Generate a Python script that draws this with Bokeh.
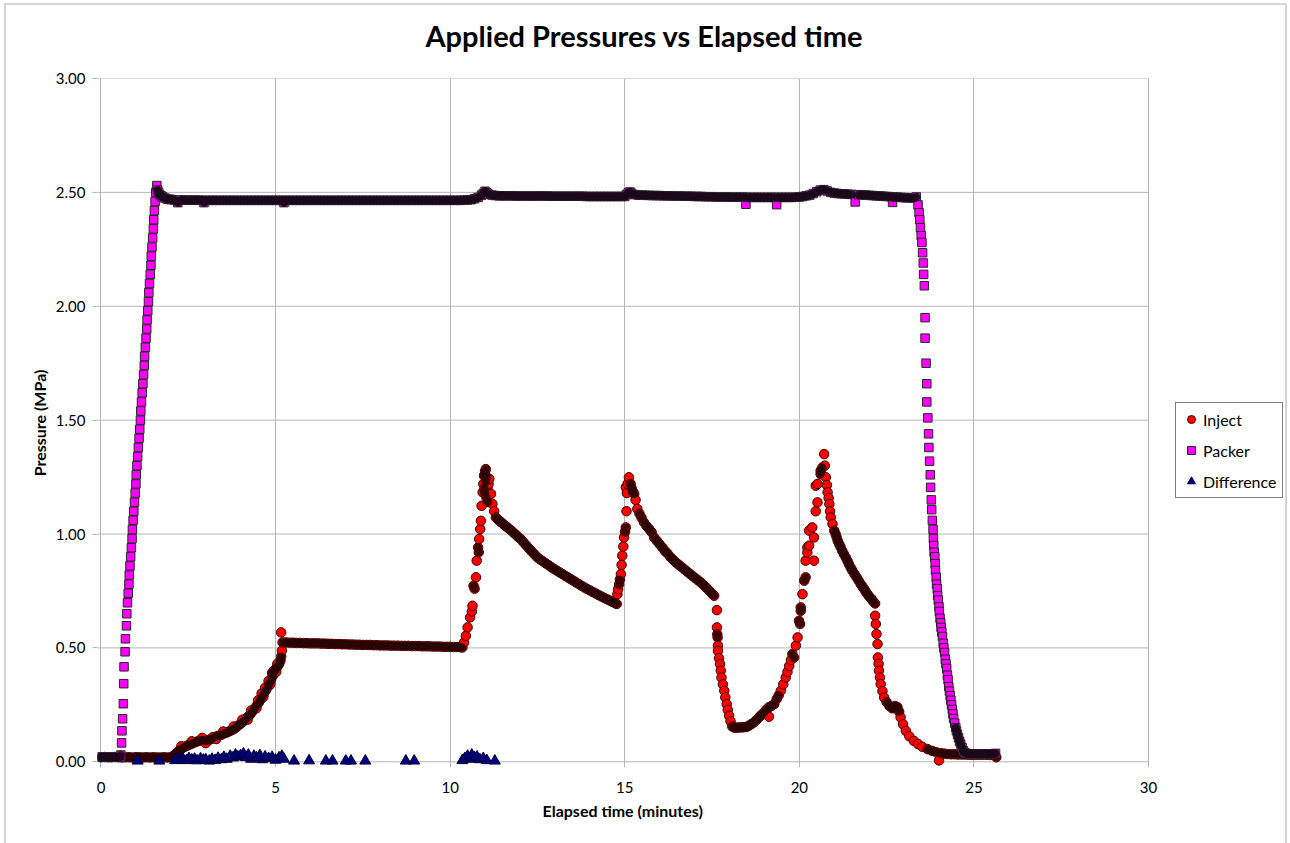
from bokeh.plotting import figure
from bokeh.models import Range1d, FixedTicker, Legend, LegendItem, PrintfTickFormatter, Title
from bokeh.embed import file_html
from bokeh.resources import INLINE

# ---------------- data ----------------
x_ticks = [0, 5, 10, 15, 20, 25, 30]
y_ticks = [0.0, 0.5, 1.0, 1.5, 2.0, 2.5, 3.0]

inject_t = [
    0.0, 0.1, 0.2, 0.3, 0.4, 0.5, 0.6, 0.7, 0.8, 0.9, 1.0, 1.1, 1.2, 1.3, 1.4, 1.5, 1.6, 1.7, 1.8, 1.9,
    2.00, 2.07, 2.13, 2.20, 2.26, 2.33, 2.40, 2.47, 2.54, 2.61, 2.68, 2.75, 2.82, 2.89, 2.96, 3.03, 3.10,
    3.17, 3.24, 3.31, 3.38, 3.45, 3.52, 3.59, 3.66, 3.73, 3.80, 3.86, 3.92, 3.98, 4.04, 4.10, 4.16, 4.22,
    4.28, 4.34, 4.40, 4.46, 4.52, 4.57, 4.62, 4.67, 4.72, 4.77, 4.82, 4.87, 4.92, 4.96, 5.00, 5.04, 5.08,
    5.11, 5.14, 5.16, 5.18, 5.16,
    2.30, 2.60, 2.90, 3.20, 3.50, 3.80, 4.05, 4.30, 4.50, 4.60, 4.70, 4.80, 4.90, 4.95, 5.05,
    3.00, 3.30, 4.20, 4.45, 4.65, 4.85, 5.02,
    5.2, 5.3, 5.4, 5.5, 5.6, 5.7, 5.8, 5.9, 6.0, 6.1, 6.2, 6.3, 6.4, 6.5, 6.6, 6.7, 6.8, 6.9, 7.0, 7.1,
    7.2, 7.3, 7.4, 7.5, 7.6, 7.7, 7.8, 7.9, 8.0, 8.1, 8.2, 8.3, 8.4, 8.5, 8.6, 8.7, 8.8, 8.9, 9.0, 9.1,
    9.2, 9.3, 9.4, 9.5, 9.6, 9.7, 9.8, 9.9, 10.0, 10.1, 10.2, 10.3,
    10.35, 10.40, 10.45, 10.50, 10.57, 10.62, 10.64, 10.67, 10.70, 10.74, 10.76, 10.80, 10.82, 10.83,
    10.86, 10.88, 10.90, 10.93, 10.95, 10.97, 11.00, 11.02,
    10.98, 11.00, 11.03, 11.05, 11.07, 11.04, 11.08, 11.10,
    11.12, 11.17, 11.21, 11.26, 11.31, 11.38, 11.45, 11.52, 11.58, 11.64, 11.72, 11.80, 11.88, 11.95,
    12.02, 12.10, 12.18, 12.26, 12.34, 12.42, 12.50, 12.58, 12.66, 12.74, 12.82, 12.90, 12.98, 13.06,
    13.14, 13.22, 13.30, 13.38, 13.45, 13.53, 13.61, 13.69, 13.77, 13.85, 13.93, 14.01, 14.09, 14.17,
    14.25, 14.33, 14.41, 14.49, 14.57, 14.65, 14.72, 14.77,
    14.79, 14.81, 14.84, 14.86, 14.89, 14.91, 14.93, 14.96, 14.98, 15.01, 15.03, 15.05, 15.03, 15.06,
    15.08, 15.12,
    15.17, 15.20, 15.24, 15.27, 15.31, 15.36, 15.42, 15.48, 15.55, 15.62, 15.70, 15.77, 15.84, 15.92,
    16.00, 16.08, 16.15, 16.22, 16.30, 16.38, 16.46, 16.54, 16.62, 16.70, 16.78, 16.86, 16.94, 17.02,
    17.10, 17.18, 17.26, 17.34, 17.42, 17.50, 17.56,
    17.64, 17.64, 17.65, 17.66, 17.67, 17.67, 17.70, 17.73, 17.75, 17.77, 17.81, 17.85, 17.88, 17.92,
    17.95, 17.99, 18.03, 18.08, 18.14, 18.20, 18.27, 18.34, 18.41, 18.48, 18.55, 18.62, 18.70, 18.78,
    18.86, 18.93, 18.99, 19.05, 19.13, 19.13, 19.20, 19.28, 19.35, 19.41, 19.47, 19.54, 19.61, 19.66,
    19.71, 19.76, 19.80, 19.85, 19.90, 19.95, 19.99, 20.02, 20.04, 20.04, 20.09, 20.14, 20.18, 20.18,
    20.23, 20.23, 20.28, 20.28, 20.37, 20.42, 20.42, 20.47, 20.47, 20.52, 20.52, 20.61, 20.61, 20.66,
    20.71,
    20.73, 20.76, 20.79, 20.81, 20.84, 20.86, 20.88, 20.90, 20.95, 21.00, 21.04, 21.07, 21.10, 21.14,
    21.18, 21.23, 21.28, 21.33, 21.38, 21.42, 21.47, 21.52, 21.58, 21.64, 21.70, 21.76, 21.81, 21.86,
    21.90, 21.95, 22.00, 22.06, 22.11, 22.17,
    22.17, 22.19, 22.21, 22.24, 22.25, 22.27, 22.28, 22.31, 22.33, 22.38, 22.43, 22.50, 22.58, 22.66,
    22.74, 22.81, 22.86, 22.90, 22.97, 23.05, 23.15, 23.28, 23.40, 23.52, 23.67, 23.80, 23.92, 24.00,
    24.05, 24.15, 24.24, 24.35, 24.45, 24.55, 24.65, 24.75, 24.85, 24.95, 25.05, 25.15, 25.25, 25.35,
    25.45, 25.55, 25.64,
]
inject_p = [
    0.020, 0.021, 0.020, 0.020, 0.021, 0.020, 0.019, 0.020, 0.020, 0.019, 0.020, 0.020, 0.019, 0.020,
    0.019, 0.020, 0.019, 0.019, 0.020, 0.019,
    0.020, 0.026, 0.034, 0.043, 0.052, 0.060, 0.066, 0.071, 0.076, 0.080, 0.085, 0.089, 0.093, 0.095,
    0.094, 0.093, 0.096, 0.101, 0.107, 0.111, 0.115, 0.119, 0.124, 0.128, 0.133, 0.138, 0.143, 0.150,
    0.158, 0.165, 0.172, 0.181, 0.190, 0.199, 0.209, 0.222, 0.234, 0.247, 0.260, 0.273, 0.287, 0.300,
    0.313, 0.327, 0.343, 0.360, 0.377, 0.392, 0.405, 0.415, 0.424, 0.433, 0.445, 0.462, 0.488, 0.568,
    0.068, 0.090, 0.105, 0.108, 0.133, 0.155, 0.185, 0.225, 0.270, 0.300, 0.325, 0.355, 0.390, 0.400,
    0.430,
    0.082, 0.100, 0.185, 0.235, 0.285, 0.340, 0.395,
    0.524, 0.524, 0.523, 0.523, 0.522, 0.522, 0.521, 0.521, 0.520, 0.520, 0.520, 0.519, 0.519, 0.518,
    0.518, 0.517, 0.517, 0.516, 0.516, 0.515, 0.515, 0.514, 0.514, 0.513, 0.513, 0.513, 0.512, 0.512,
    0.511, 0.511, 0.511, 0.510, 0.510, 0.510, 0.509, 0.509, 0.509, 0.508, 0.508, 0.508, 0.507, 0.507,
    0.507, 0.506, 0.506, 0.506, 0.505, 0.505, 0.505, 0.504, 0.504, 0.503,
    0.502, 0.524, 0.553, 0.590, 0.634, 0.660, 0.685, 0.773, 0.760, 0.810, 0.883, 0.941, 0.920, 0.978,
    1.022, 1.058, 1.124, 1.183, 1.220, 1.256, 1.275, 1.285,
    1.200, 1.180, 1.230, 1.250, 1.200, 1.160, 1.140, 1.220,
    1.242, 1.176, 1.132, 1.100, 1.073, 1.062, 1.053, 1.044, 1.036, 1.029, 1.019, 1.008, 0.997, 0.987,
    0.978, 0.964, 0.950, 0.936, 0.923, 0.910, 0.897, 0.888, 0.880, 0.871, 0.863, 0.854, 0.846, 0.839,
    0.831, 0.824, 0.816, 0.809, 0.802, 0.795, 0.787, 0.780, 0.772, 0.765, 0.758, 0.752, 0.745, 0.739,
    0.732, 0.726, 0.720, 0.714, 0.708, 0.702, 0.697, 0.693,
    0.736, 0.758, 0.780, 0.800, 0.824, 0.865, 0.905, 0.945, 0.985, 1.010, 1.029, 1.100, 1.205, 1.180,
    1.220, 1.249,
    1.220, 1.200, 1.185, 1.176, 1.150, 1.110, 1.090, 1.072, 1.051, 1.036, 1.022, 1.008, 0.985, 0.970,
    0.955, 0.940, 0.926, 0.915, 0.900, 0.888, 0.876, 0.866, 0.856, 0.846, 0.836, 0.826, 0.816, 0.806,
    0.797, 0.787, 0.776, 0.764, 0.751, 0.738, 0.729,
    0.666, 0.590, 0.560, 0.546, 0.510, 0.487, 0.455, 0.429, 0.400, 0.370, 0.340, 0.312, 0.283, 0.253,
    0.228, 0.202, 0.178, 0.155, 0.150, 0.150, 0.151, 0.151, 0.152, 0.153, 0.158, 0.165, 0.173, 0.185,
    0.198, 0.208, 0.217, 0.228, 0.198, 0.240, 0.245, 0.253, 0.275, 0.292, 0.312, 0.340, 0.370, 0.395,
    0.421, 0.447, 0.473, 0.458, 0.510, 0.546, 0.619, 0.605, 0.663, 0.678, 0.736, 0.795, 0.810, 0.883,
    0.941, 0.919, 1.015, 0.949, 1.029, 0.985, 0.883, 1.100, 1.212, 1.139, 1.220, 1.263, 1.278, 1.292,
    1.351,
    1.300, 1.249, 1.215, 1.183, 1.158, 1.132, 1.100, 1.073, 1.044, 1.015, 1.000, 0.985, 0.970, 0.956,
    0.944, 0.926, 0.911, 0.897, 0.882, 0.868, 0.853, 0.839, 0.824, 0.810, 0.795, 0.780, 0.769, 0.758,
    0.747, 0.736, 0.726, 0.716, 0.705, 0.695,
    0.641, 0.605, 0.561, 0.517, 0.458, 0.430, 0.400, 0.370, 0.341, 0.310, 0.282, 0.262, 0.245, 0.235,
    0.245, 0.240, 0.220, 0.195, 0.165, 0.136, 0.112, 0.092, 0.078, 0.066, 0.056, 0.048, 0.042, 0.006,
    0.038, 0.036, 0.034, 0.033, 0.033, 0.032, 0.032, 0.032, 0.031, 0.031, 0.031, 0.031, 0.031, 0.031,
    0.030, 0.030, 0.020,
]

packer_t = [
    0.00, 0.05, 0.10, 0.15, 0.20, 0.25, 0.30, 0.35, 0.40, 0.45, 0.50, 0.55,
    0.57, 0.59, 0.60, 0.62, 0.64, 0.65, 0.66, 0.69, 0.70, 0.73, 0.74, 0.76,
    0.78, 0.80, 0.81, 0.83, 0.85, 0.87, 0.89, 0.90, 0.92, 0.94, 0.96, 0.98, 1.00, 1.01, 1.03, 1.05,
    1.07, 1.09, 1.11, 1.13, 1.14, 1.16, 1.18, 1.20, 1.22, 1.24, 1.25, 1.27, 1.29, 1.31, 1.32, 1.34,
    1.36, 1.37, 1.39, 1.41, 1.43, 1.44, 1.46, 1.48, 1.50, 1.51, 1.53, 1.55, 1.57, 1.60,
    1.62, 1.65, 1.68, 1.72, 1.77, 1.83, 1.90, 1.97,
    2.0, 2.1, 2.2, 2.3, 2.4, 2.5, 2.6, 2.7, 2.8, 2.9, 2.95, 3.0, 3.1, 3.2, 3.3, 3.4, 3.5, 3.6, 3.7,
    3.8, 3.9, 4.0, 4.1, 4.2, 4.3, 4.4, 4.5, 4.6, 4.7, 4.8, 4.9, 5.0, 5.1, 5.2, 5.24, 5.3, 5.4, 5.5,
    5.6, 5.7, 5.8, 5.9, 6.0, 6.1, 6.2, 6.3, 6.4, 6.5, 6.6, 6.7, 6.8, 6.9, 7.0, 7.1, 7.2, 7.3, 7.4,
    7.5, 7.6, 7.7, 7.8, 7.9, 8.0, 8.1, 8.2, 8.3, 8.4, 8.5, 8.6, 8.7, 8.8, 8.9, 9.0, 9.1, 9.2, 9.3,
    9.4, 9.5, 9.6, 9.7, 9.8, 9.9, 10.0, 10.1, 10.2, 10.3, 10.4, 10.5,
    10.6, 10.7, 10.8, 10.9, 10.95, 11.0, 11.05, 11.1, 11.2, 11.3,
    11.4, 11.5, 11.6, 11.7, 11.8, 11.9, 12.0, 12.1, 12.2, 12.3, 12.4, 12.5, 12.6, 12.7, 12.8, 12.9,
    13.0, 13.1, 13.2, 13.3, 13.4, 13.5, 13.6, 13.7, 13.8, 13.9, 14.0, 14.1, 14.2, 14.3, 14.4, 14.5,
    14.6, 14.7, 14.8, 14.9, 15.0, 15.05, 15.1, 15.15, 15.2, 15.3,
    15.4, 15.5, 15.6, 15.7, 15.8, 15.9, 16.0, 16.1, 16.2, 16.3, 16.4, 16.5, 16.6, 16.7, 16.8, 16.9,
    17.0, 17.1, 17.2, 17.3, 17.4, 17.5, 17.6, 17.7, 17.8, 17.9, 18.0, 18.1, 18.2, 18.3, 18.4, 18.47,
    18.5, 18.6, 18.7, 18.8, 18.9, 19.0, 19.1, 19.2, 19.3, 19.35, 19.4, 19.5, 19.6, 19.7, 19.8, 19.9,
    20.0, 20.1, 20.2, 20.3, 20.4, 20.5, 20.6, 20.7, 20.8, 20.9, 21.0,
    21.1, 21.2, 21.3, 21.4, 21.5, 21.6, 21.7, 21.8, 21.9, 22.0, 22.1, 22.2, 22.3, 22.4, 22.5, 22.6,
    22.67, 22.7, 22.8, 22.9, 23.0, 23.1, 23.2, 23.3,
    23.35, 23.40, 23.43, 23.45, 23.47, 23.49, 23.51, 23.53, 23.55, 23.56, 23.58, 23.60, 23.60, 23.63,
    23.65, 23.65, 23.68, 23.70, 23.71, 23.73, 23.75, 23.76, 23.78, 23.79, 23.81, 23.83,
    23.84, 23.85, 23.86, 23.88, 23.89, 23.90, 23.92, 23.93, 23.95, 23.96, 23.98, 24.00, 24.01, 24.03,
    24.05, 24.06, 24.08, 24.10, 24.12, 24.14, 24.16, 24.18, 24.20, 24.22, 24.24, 24.26, 24.28, 24.30,
    24.32, 24.34, 24.36, 24.38, 24.40, 24.42, 24.45, 24.48, 24.50, 24.53, 24.56, 24.59, 24.62, 24.66,
    24.70, 24.74,
    24.78, 24.84, 24.90, 24.96, 25.02, 25.08, 25.14, 25.20, 25.26, 25.32, 25.38, 25.44, 25.50, 25.56,
    25.62,
]
packer_p = [
    0.021, 0.020, 0.021, 0.020, 0.020, 0.021, 0.020, 0.020, 0.021, 0.020, 0.020, 0.021,
    0.030, 0.083, 0.136, 0.189, 0.255, 0.343, 0.417, 0.483, 0.540, 0.597, 0.650, 0.698,
    0.74, 0.78, 0.82, 0.86, 0.90, 0.94, 0.98, 1.02, 1.06, 1.10, 1.14, 1.18, 1.22, 1.26, 1.30, 1.34,
    1.38, 1.42, 1.46, 1.50, 1.54, 1.58, 1.62, 1.66, 1.70, 1.74, 1.78, 1.82, 1.86, 1.90, 1.94, 1.98,
    2.02, 2.06, 2.10, 2.14, 2.18, 2.22, 2.26, 2.30, 2.34, 2.38, 2.42, 2.46, 2.50, 2.53,
    2.51, 2.50, 2.49, 2.485, 2.48, 2.475, 2.47, 2.47,
    2.468, 2.467, 2.455, 2.467, 2.466, 2.466, 2.466, 2.466, 2.466, 2.465, 2.455, 2.465, 2.465, 2.465,
    2.465, 2.465, 2.465, 2.465, 2.465, 2.465, 2.465, 2.465, 2.465, 2.465, 2.465, 2.465, 2.465, 2.465,
    2.465, 2.465, 2.465, 2.465, 2.465, 2.465, 2.455, 2.465, 2.465, 2.465, 2.465, 2.465, 2.465, 2.465,
    2.465, 2.465, 2.465, 2.465, 2.465, 2.465, 2.465, 2.465, 2.465, 2.465, 2.465, 2.465, 2.465, 2.465,
    2.465, 2.465, 2.465, 2.465, 2.465, 2.465, 2.465, 2.465, 2.465, 2.465, 2.465, 2.465, 2.465, 2.465,
    2.465, 2.465, 2.465, 2.465, 2.465, 2.465, 2.465, 2.465, 2.465, 2.465, 2.465, 2.465, 2.465, 2.465,
    2.465, 2.465, 2.466, 2.467,
    2.468, 2.472, 2.478, 2.488, 2.495, 2.505, 2.498, 2.492, 2.488, 2.486,
    2.485, 2.485, 2.485, 2.485, 2.485, 2.484, 2.484, 2.484, 2.484, 2.484, 2.484, 2.484, 2.484, 2.484,
    2.484, 2.483, 2.483, 2.483, 2.483, 2.483, 2.483, 2.483, 2.483, 2.483, 2.483, 2.482, 2.482, 2.482,
    2.482, 2.482, 2.482, 2.482, 2.482, 2.482, 2.482, 2.482, 2.482, 2.490, 2.498, 2.502, 2.495, 2.490,
    2.488, 2.488, 2.487, 2.487, 2.486, 2.486, 2.486, 2.485, 2.485, 2.485, 2.484, 2.484, 2.484, 2.483,
    2.483, 2.483,
    2.482, 2.482, 2.482, 2.481, 2.481, 2.481, 2.480, 2.480, 2.480, 2.480, 2.479, 2.479, 2.479, 2.479,
    2.479, 2.448,
    2.478, 2.478, 2.478, 2.478, 2.478, 2.478, 2.478, 2.478, 2.478, 2.446, 2.478, 2.478, 2.478, 2.478,
    2.478, 2.479,
    2.480, 2.482, 2.485, 2.488, 2.495, 2.503, 2.510, 2.512, 2.506, 2.500, 2.497,
    2.495, 2.494, 2.493, 2.492, 2.491, 2.458, 2.490, 2.489, 2.488, 2.487, 2.486, 2.485, 2.484, 2.483,
    2.482, 2.481,
    2.456, 2.480, 2.479, 2.478, 2.477, 2.476, 2.476, 2.475,
    2.480, 2.445, 2.410, 2.380, 2.345, 2.310, 2.280, 2.235, 2.190, 2.140, 2.090, 1.950, 1.860, 1.750,
    1.660, 1.580, 1.510, 1.440, 1.380, 1.320, 1.260, 1.205, 1.150, 1.107, 1.060, 1.020,
    0.98, 0.95, 0.92, 0.90, 0.87, 0.84, 0.81, 0.78, 0.76, 0.73, 0.71, 0.68, 0.66, 0.63,
    0.61, 0.59, 0.57, 0.55, 0.52, 0.50, 0.48, 0.45, 0.43, 0.41, 0.38, 0.36, 0.33, 0.31,
    0.29, 0.27, 0.25, 0.23, 0.21, 0.19, 0.17, 0.15, 0.136, 0.120, 0.105, 0.090, 0.078, 0.063,
    0.048, 0.040,
    0.036, 0.035, 0.035, 0.035, 0.035, 0.035, 0.035, 0.035, 0.035, 0.035, 0.035, 0.035, 0.035, 0.035,
    0.037,
]

diff_t = [
    1.05, 1.67, 2.12, 2.20, 2.28, 2.35, 2.45, 2.52, 2.60, 2.68, 2.75, 2.85, 2.93, 3.00, 3.10, 3.18,
    3.27, 3.35, 3.45, 3.52, 3.60, 3.70, 3.78, 3.85, 3.92, 4.00, 4.08, 4.15, 4.22, 4.30, 4.38, 4.45,
    4.55, 4.62, 4.70, 4.80, 4.90, 5.00, 5.10, 5.18, 5.24, 5.53, 5.96, 6.44, 6.63, 7.01, 7.16, 7.57,
    8.73, 8.97, 10.35, 10.42, 10.50, 10.56, 10.62, 10.70, 10.77, 10.85, 10.95, 11.05, 11.28,
]
diff_p = [
    0.004, 0.004, 0.006, 0.010, 0.008, 0.012, 0.006, 0.015, 0.009, 0.012, 0.005, 0.014, 0.008, 0.010,
    0.004, 0.012, 0.007, 0.016, 0.010, 0.020, 0.012, 0.025, 0.018, 0.030, 0.022, 0.028, 0.035, 0.020,
    0.030, 0.012, 0.025, 0.018, 0.028, 0.010, 0.022, 0.015, 0.020, 0.008, 0.018, 0.025, 0.012, 0.004,
    0.005, 0.004, 0.004, 0.004, 0.004, 0.004, 0.004, 0.004, 0.006, 0.015, 0.025, 0.012, 0.030, 0.018,
    0.022, 0.010, 0.015, 0.006, 0.004,
]

# ---------------- figure ----------------
FONT = "Lato"
GRID = "#b5b5b5"
EDGE = "#d6d6d6"
# the frame reaches past 30 min so that the legend sits inside it
X0, X1, Y0, Y1 = -0.1, 33.866, -0.025, 3.0
FRAME_W, FRAME_H = 1186, 689

p = figure(width=1290, height=843, output_backend="svg", toolbar_location=None,
           x_range=Range1d(X0, X1), y_range=Range1d(Y0, Y1),
           min_border_left=97, min_border_right=7, min_border_top=78, min_border_bottom=76,
           background_fill_color="white", border_fill_color="white", border_fill_alpha=0.0)
p.outline_line_color = None
p.styles = {
    "background": (
        f"linear-gradient({EDGE},{EDGE}) 4px 3px / 2px 100% no-repeat, "
        f"linear-gradient({EDGE},{EDGE}) 4px 3px / calc(100% - 7px) 2px no-repeat, "
        f"linear-gradient({EDGE},{EDGE}) calc(100% - 3px) 3px / 2px 100% no-repeat, white"
    )
}

p.xaxis.ticker = FixedTicker(ticks=x_ticks)
p.yaxis.ticker = FixedTicker(ticks=y_ticks)
p.xgrid.ticker = FixedTicker(ticks=x_ticks)
p.xgrid.grid_line_color = GRID
p.ygrid.visible = False
p.yaxis.formatter = PrintfTickFormatter(format="%.2f")

# horizontal grid lines only across the 0-30 min span
p.segment(x0=[X0] * len(y_ticks), y0=y_ticks, x1=[x_ticks[-1]] * len(y_ticks), y1=y_ticks,
          line_color=GRID, line_width=1)

for ax in (p.xaxis[0], p.yaxis[0]):
    ax.axis_line_color = None
    ax.minor_tick_line_color = None
    ax.major_label_text_font = FONT
    ax.major_label_text_font_size = "15px"
    ax.major_label_text_color = "#000000"
    ax.axis_label_text_font = FONT
    ax.axis_label_text_font_style = "bold"
    ax.axis_label_text_font_size = "16px"
    ax.axis_label_text_color = "#000000"

p.xaxis.major_tick_line_color = None
p.xaxis.major_label_standoff = 8

p.yaxis.major_tick_line_color = GRID
p.yaxis.major_tick_in = 0
p.yaxis.major_tick_out = 5
p.yaxis.major_label_standoff = 7
p.yaxis.axis_label = "Pressure (MPa)"
p.yaxis.axis_label_standoff = 4

# main title (outermost) and a blank spacer between it and the frame
p.title.text = "Applied Pressures vs Elapsed time"
p.title.align = "left"
p.title.offset = 328
p.title.text_font = FONT
p.title.text_font_style = "bold"
p.title.text_font_size = "29px"
p.title.text_color = "#000000"
spacer = Title(text=" ", text_font_size="8px", standoff=10)
p.add_layout(spacer, "above")

x_label = Title(text="Elapsed time (minutes)", align="left", offset=445,
                text_font=FONT, text_font_style="bold", text_font_size="16px",
                text_color="#000000", standoff=6)
p.add_layout(x_label, "below")


def close_pairs(t, v, limit_px):
    """Consecutive samples that sit closer than limit_px on screen (dense stretches)."""
    sx = FRAME_W / (X1 - X0)
    sy = FRAME_H / (Y1 - Y0)
    x0, y0, x1, y1 = [], [], [], []
    for i in range(len(t) - 1):
        dx = (t[i + 1] - t[i]) * sx
        dy = (v[i + 1] - v[i]) * sy
        if (dx * dx + dy * dy) ** 0.5 <= limit_px:
            x0.append(t[i]); y0.append(v[i]); x1.append(t[i + 1]); y1.append(v[i + 1])
    return x0, y0, x1, y1


r_inj = p.scatter(inject_t, inject_p, marker="circle", size=9.5,
                  fill_color="#ff0000", line_color="#3a0000", line_width=1)
ix0, iy0, ix1, iy1 = close_pairs(inject_t, inject_p, 5.0)
p.segment(ix0, iy0, ix1, iy1, line_width=8, line_color="#2a0404", line_alpha=0.9, line_cap="round")

r_pk = p.scatter(packer_t, packer_p, marker="square", size=8.5,
                 fill_color="#ff00ff", line_color="#262626", line_width=1)
kx0, ky0, kx1, ky1 = close_pairs(packer_t, packer_p, 4.5)
p.segment(kx0, ky0, kx1, ky1, line_width=8, line_color="#1a0a1a", line_alpha=0.92, line_cap="round")

r_df = p.scatter(diff_t, diff_p, marker="triangle", size=11,
                 fill_color="#000080", line_color="#00003a", line_width=1)

legend = Legend(items=[LegendItem(label="Inject", renderers=[r_inj]),
                       LegendItem(label="Packer", renderers=[r_pk]),
                       LegendItem(label="Difference", renderers=[r_df])],
                location=(1078, 269), orientation="vertical",
                label_text_font=FONT, label_text_font_size="16px", label_text_color="#000000",
                glyph_width=20, glyph_height=22, label_height=22, label_standoff=2,
                spacing=9, padding=5, margin=0,
                border_line_color="#000000", border_line_width=1,
                background_fill_color="white", background_fill_alpha=1.0)
p.add_layout(legend)

open("out.html", "w").write(file_html(p, INLINE))
